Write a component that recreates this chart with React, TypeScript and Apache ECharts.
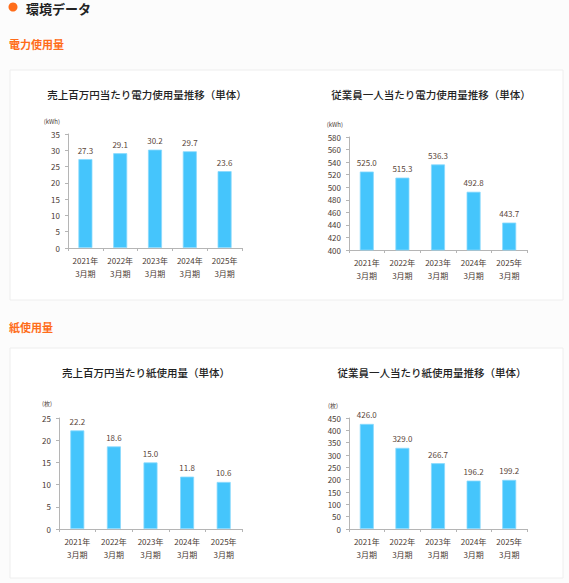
import React, { useEffect, useRef } from "react";
import * as echarts from "echarts";

const categories = ["2021年\n3月期", "2022年\n3月期", "2023年\n3月期", "2024年\n3月期", "2025年\n3月期"];

const elecPerSales = [27.3, 29.1, 30.2, 29.7, 23.6];
const elecPerEmployee = [525.0, 515.3, 536.3, 492.8, 443.7];
const paperPerSales = [22.2, 18.6, 15.0, 11.8, 10.6];
const paperPerEmployee = [426.0, 329.0, 266.7, 196.2, 199.2];

const chartTitles = [
  "売上百万円当たり電力使用量推移（単体）",
  "従業員一人当たり電力使用量推移（単体）",
  "売上百万円当たり紙使用量（単体）",
  "従業員一人当たり紙使用量推移（単体）",
];
const units = ["(kWh)", "(kWh)", "(枚)", "(枚)"];
const axisRanges = [
  { min: 0, max: 35, interval: 5 },
  { min: 400, max: 580, interval: 20 },
  { min: 0, max: 25, interval: 5 },
  { min: 0, max: 450, interval: 50 },
];

const FONT = "'Noto Sans CJK JP', 'Noto Sans', sans-serif";
const ORANGE = "#ff6d1a";
const BAR = "#45c5fc";

export default function App() {
  const ref = useRef<HTMLDivElement>(null);
  useEffect(() => {
    if (!ref.current) return;
    const chart = echarts.init(ref.current, null, { renderer: "svg" });
    const grids = [
      { left: 68, top: 134, width: 174, height: 114 },
      { left: 349, top: 137, width: 178, height: 113 },
      { left: 59, top: 418, width: 183, height: 111 },
      { left: 349, top: 418, width: 178, height: 111 },
    ];
    const titlePos = [
      { x: 142, y: 84 },
      { x: 426, y: 84 },
      { x: 141, y: 362 },
      { x: 427, y: 362 },
    ];
    const unitPad = [8, 6, 7, 11];
    const unitGap = [10, 10, 12, 10];
    const data = [elecPerSales, elecPerEmployee, paperPerSales, paperPerEmployee];

    chart.setOption({
      animation: false,
      backgroundColor: "#fcfcfc",
      textStyle: { fontFamily: FONT },
      graphic: [
        { type: "rect", shape: { x: 10, y: 70, width: 553, height: 230 }, style: { fill: "#ffffff", stroke: "#eeeeee", lineWidth: 1 }, z: -10 },
        { type: "rect", shape: { x: 10, y: 348, width: 553, height: 230 }, style: { fill: "#ffffff", stroke: "#eeeeee", lineWidth: 1 }, z: -10 },
        { type: "circle", shape: { cx: 13, cy: 7, r: 4.5 }, style: { fill: ORANGE } },
        { type: "text", x: 26, y: 8, style: { text: "環境データ", fill: "#222", font: `bold 13px ${FONT}`, textVerticalAlign: "middle" } },
        { type: "text", x: 9, y: 44, style: { text: "電力使用量", fill: ORANGE, font: `bold 11px ${FONT}`, textVerticalAlign: "middle" } },
        { type: "text", x: 9, y: 327, style: { text: "紙使用量", fill: ORANGE, font: `bold 11px ${FONT}`, textVerticalAlign: "middle" } },
      ],
      title: chartTitles.map((t, i) => ({
        text: t,
        left: titlePos[i].x,
        top: titlePos[i].y,
        textAlign: "center",
        textStyle: { fontSize: 10.5, fontWeight: 500, color: "#222", fontFamily: FONT },
      })),
      grid: grids,
      xAxis: grids.map((_, i) => ({
        type: "category",
        gridIndex: i,
        data: categories,
        axisLine: { lineStyle: { color: "#b5b5b5" } },
        axisTick: { show: true, length: 3, lineStyle: { color: "#b5b5b5" } },
        axisLabel: { fontSize: 8, color: "#4a3a33", lineHeight: 13, margin: 6, fontFamily: FONT },
      })),
      yAxis: grids.map((_, i) => ({
        type: "value",
        gridIndex: i,
        min: axisRanges[i].min,
        max: axisRanges[i].max,
        interval: axisRanges[i].interval,
        name: units[i],
        nameLocation: "end",
        nameGap: unitGap[i],
        nameTextStyle: { fontSize: 6, color: "#4a3a33", align: "right", padding: [0, unitPad[i], 0, 0], fontFamily: FONT },
        axisLine: { show: true, lineStyle: { color: "#b5b5b5" } },
        axisTick: { show: true, length: 3, lineStyle: { color: "#b5b5b5" } },
        splitLine: { show: false },
        axisLabel: { fontSize: 8, color: "#4a3a33", margin: 8, fontFamily: FONT },
      })),
      series: data.map((d, i) => ({
        type: "bar",
        xAxisIndex: i,
        yAxisIndex: i,
        data: d,
        barWidth: 14,
        itemStyle: { color: BAR, borderColor: "#8ad9fd", borderWidth: 0.8 },
        label: {
          show: true,
          position: "top",
          distance: 5,
          fontSize: 8,
          color: "#5a463a",
          fontFamily: FONT,
          formatter: (p: any) => Number(p.value).toFixed(1),
        },
      })),
    });
    return () => chart.dispose();
  }, []);
  return <div ref={ref} style={{ position: "fixed", left: 0, top: 0, width: 569, height: 583 }} />;
}
